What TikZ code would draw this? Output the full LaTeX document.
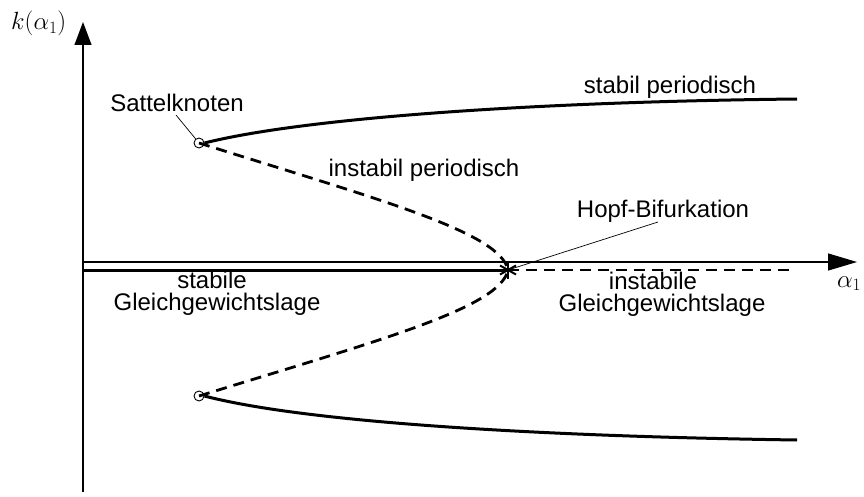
\documentclass[tikz,border=0pt]{standalone}
\usepackage{fontspec}
\setmainfont{Liberation Sans}
\usetikzlibrary{arrows.meta}
\begin{document}
\begin{tikzpicture}[x=1pt,y=-1pt,
  lbl/.style={inner sep=0pt, anchor=base, font=\fontsize{24}{27}\selectfont},
  mlbl/.style={inner sep=0pt, anchor=base west, font=\fontsize{27}{30}\selectfont},
  axis/.style={line width=1.2pt},
  stab/.style={line width=3pt},
  unstab/.style={line width=2.8pt, dash pattern=on 11pt off 7pt},
  leader/.style={line width=0.7pt},
  saddle/.style={circle, draw, line width=0.9pt, minimum size=10pt, inner sep=0pt}]
\useasboundingbox (0,0) rectangle (864,497);
% axes
\coordinate (ybot) at (83,492);
\coordinate (ytop) at (83,22);
\coordinate (O) at (83,262);
\coordinate (xend) at (857,262);
\draw[axis, -{Triangle[length=23pt,width=17pt]}] (ybot) -- (ytop);
\draw[axis, -{Triangle[length=29pt,width=17pt]}] (O) -- (xend);
\node[mlbl] (klab) at (11,30) {$k(\alpha_1)$};
\node[mlbl] (alab) at (837,287) {$\alpha_1$};
% key points
\coordinate (E0) at (83,270);
\coordinate (H) at (508,270);
\coordinate (Eend) at (793,270);
\node[saddle] (S1) at (199,143) {};
\node[saddle] (S2) at (199,396) {};
\coordinate (P1) at (797,99);
\coordinate (P2) at (797,440);
% equilibria
\draw[stab] (E0) -- (H);
\draw[unstab] (H) -- (Eend);
% periodic branches
\draw[stab] (S1.east) .. controls (300,119) and (520,102) .. (P1);
\draw[stab] (S2.east) .. controls (300,421) and (520,436) .. (P2);
\draw[unstab] (S1.center) .. controls (380,200) and (500,232) .. (H);
\draw[unstab] (S2.center) .. controls (380,340) and (500,308) .. (H);
% Hopf asterisk
\draw[line width=2pt] (H) ++(0,-9) -- ++(0,18);
\draw[line width=2pt] (H) ++(-8,-4.5) -- ++(16,9);
\draw[line width=2pt] (H) ++(-8,4.5) -- ++(16,-9);
% labels
\node[lbl] (sk) at (177,112) {Sattelknoten};
\coordinate (skl) at (176,115);
\draw[leader] (skl) -- (S1);
\node[lbl] (sp) at (670,94) {stabil periodisch};
\node[lbl] (ip) at (424,177) {instabil periodisch};
\node[lbl] (hb) at (663,217) {Hopf-Bifurkation};
\coordinate (hbl) at (658,222);
\draw[leader] (hbl) -- (H);
\node[lbl] (sg1) at (212,288) {stabile};
\node[lbl] (sg2) at (217,310) {Gleichgewichtslage};
\node[lbl] (ig1) at (653,289) {instabile};
\node[lbl] (ig2) at (662,311) {Gleichgewichtslage};
\end{tikzpicture}
\end{document}
